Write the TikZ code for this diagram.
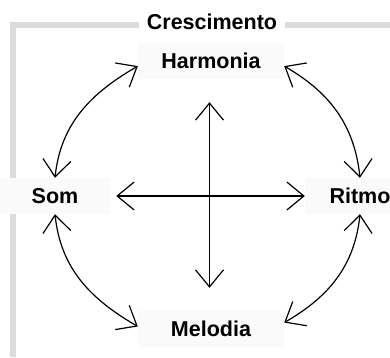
\documentclass[tikz,border=0pt]{standalone}
\usepackage{fontspec}
\setmainfont{Liberation Sans}
\usetikzlibrary{arrows.meta}
\tikzset{
  lbl/.style={font=\fontsize{21.5}{24}\selectfont\bfseries, fill=black!2, inner sep=0pt,
    minimum width=146pt, minimum height=36pt},
  sidelbl/.style={lbl, minimum width=110pt},
  frame/.style={draw=black!14, line width=6pt},
  link/.style={line width=1.2pt, {Straight Barb[length=17pt,width=28pt,line width=1.2pt]}-{Straight Barb[length=17pt,width=28pt,line width=1.2pt]}}
}
\begin{document}
\begin{tikzpicture}[x=1pt,y=1pt]
\useasboundingbox (0,0) rectangle (390,357);
\fill[white] (0,0) rectangle (390,357);
% frame
\draw[frame] (390,332) -- (13,332) -- (13,0);
% nodes
\node[lbl, fill=white] (cres) at (212,335) {Crescimento};
\node[lbl] (harm) at (211,296) {Harmonia};
\node[lbl] (melo) at (211,28) {Melodia};
\node[sidelbl] (som) at (55,161) {Som};
\node[sidelbl] (ritmo) at (360,161) {Ritmo};
% cross
\draw[link, shorten <=23pt, shorten >=23pt] ([xshift=-1.5pt]harm.south) -- ([xshift=-1.5pt]melo.north);
\draw[link, shorten <=6pt] (som.east) -- (ritmo.west);
% arcs
\draw[link] (som.north) to[out=84,in=210] (harm.184);
\draw[link] (harm.356) to[out=-30,in=96] (ritmo.north);
\draw[link] (ritmo.south) to[out=264,in=30] (melo.5);
\draw[link] (melo.178) to[out=150,in=276] (som.south);
\end{tikzpicture}
\end{document}
